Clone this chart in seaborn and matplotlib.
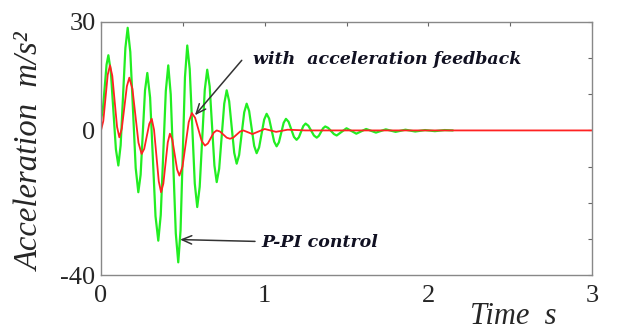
import numpy as np
import pandas as pd
import matplotlib
matplotlib.use('Agg')
import matplotlib.pyplot as plt
import seaborn as sns

sns.set_style('white')
plt.rcParams['font.family'] = ['Liberation Serif', 'DejaVu Serif']

# P-PI control (green) (peaks, troughs and flanks)
green_t = [0.000, 0.011, 0.034, 0.045, 0.060, 0.091, 0.106, 0.120, 0.149, 0.163,
           0.179, 0.212, 0.228, 0.242, 0.269, 0.283, 0.300, 0.333, 0.350, 0.365,
           0.396, 0.411, 0.426, 0.457, 0.472, 0.486, 0.513, 0.527, 0.542, 0.573,
           0.588, 0.603, 0.634, 0.649, 0.664, 0.693, 0.707, 0.722, 0.753, 0.768,
           0.783, 0.814, 0.829, 0.844, 0.875, 0.890, 0.905, 0.936, 0.951, 0.966,
           0.997, 1.012, 1.027, 1.058, 1.073, 1.087, 1.116, 1.130, 1.146, 1.179,
           1.195, 1.209, 1.236, 1.250, 1.267, 1.301, 1.318, 1.331, 1.357, 1.370,
           1.388, 1.423, 1.440, 1.500, 1.560, 1.620, 1.680, 1.740, 1.800, 1.860,
           1.920, 1.980, 2.040, 2.100, 2.150]
green_v = [3.0, 5.6, 18.2, 20.8, 16.3, -5.2, -9.7, -4.1, 22.8, 28.4,
           21.7, -10.4, -17.1, -12.3, 11.1, 15.9, 9.1, -23.7, -30.5, -23.4,
           10.9, 18.0, 10.0, -28.5, -36.5, -27.7, 14.7, 23.5, 17.0, -14.7,
           -21.2, -15.6, 11.2, 16.8, 12.2, -9.7, -14.3, -10.6, 7.4, 11.1,
           8.1, -6.2, -9.2, -6.8, 5.0, 7.4, 5.4, -4.3, -6.3, -4.7,
           3.0, 4.6, 3.3, -3.1, -4.4, -3.3, 2.1, 3.2, 2.4, -1.8,
           -2.6, -1.9, 1.2, 1.9, 1.3, -1.4, -2.0, -1.5, 0.6, 1.1,
           0.7, -1.0, -1.4, 0.6, -0.9, 0.4, -0.6, 0.3, -0.4, 0.2,
           -0.3, 0.1, -0.2, 0.1, 0.0]

# with acceleration feedback (red)
red_t = [0.000, 0.014, 0.041, 0.055, 0.069, 0.098, 0.112, 0.127, 0.158, 0.173,
         0.192, 0.229, 0.248, 0.264, 0.295, 0.310, 0.324, 0.353, 0.367, 0.381,
         0.408, 0.421, 0.436, 0.465, 0.479, 0.498, 0.536, 0.555, 0.575, 0.615,
         0.635, 0.653, 0.689, 0.707, 0.727, 0.768, 0.788, 0.808, 0.850, 0.870,
         0.925, 1.000, 1.070, 1.140, 1.250, 3.000]
red_v = [0.0, 2.6, 15.4, 18.0, 15.1, 1.0, -1.9, 0.5, 12.2, 14.6,
         11.5, -3.4, -6.5, -5.1, 1.8, 3.2, 0.2, -14.1, -17.1, -14.7,
         -3.3, -0.9, -2.6, -10.8, -12.5, -10.0, 2.3, 4.8, 3.5, -2.9,
         -4.2, -3.6, -0.6, 0.0, -0.3, -2.0, -2.3, -2.0, -0.3, 0.0,
         -1.0, 0.4, -0.4, 0.2, 0.0, 0.0]

xticks = [0, 0.5, 1, 1.5, 2, 2.5, 3]
xticklabels = ['0', '', '1', '', '2', '', '3']
yticks = [-40, -30, -20, -10, 0, 10, 20, 30]
yticklabels = ['-40', '', '', '', '0', '', '', '30']

fig = plt.figure(figsize=(6.32, 3.33), dpi=100)
ax = fig.add_axes([101 / 632, 58 / 333, 491 / 632, 253 / 333])

sns.lineplot(x=green_t, y=green_v, ax=ax, color='#22ee22', lw=1.6,
             estimator=None, sort=False)
sns.lineplot(x=red_t, y=red_v, ax=ax, color='#ff2222', lw=1.3,
             estimator=None, sort=False)

ax.set_xlim(0, 3)
ax.set_ylim(-40, 30)
ax.set_xticks(xticks)
ax.set_xticklabels(xticklabels)
ax.set_yticks(yticks)
ax.set_yticklabels(yticklabels)
ax.tick_params(direction='in', top=True, right=True, length=3, width=0.8,
               color='#666666', labelsize=19)
ax.tick_params(axis='x', pad=7)
ax.tick_params(axis='y', pad=4)
for s in ax.spines.values():
    s.set_color('#888888')
    s.set_linewidth(1.0)

# annotations: arrows drawn separately from the labels
arrow = dict(arrowstyle='->,head_length=0.7,head_width=0.3', color='#333333',
             lw=1.1, shrinkA=0, shrinkB=0)
ax.annotate('', xy=(0.574, 4.2), xytext=(0.86, 19.4), arrowprops=arrow)
ax.annotate('', xy=(0.483, -30.2), xytext=(0.941, -30.7), arrowprops=arrow)

ann_font = dict(family='DejaVu Serif', fontsize=12.5, fontweight='bold',
                fontstyle='italic', color='#111122')
ax.text(0.928, 19.6, 'with  acceleration feedback', ha='left', va='center', **ann_font)
ax.text(0.983, -31.0, 'P-PI control', ha='left', va='center', **ann_font)

fig.text(31 / 632, 1 - 152 / 333, 'Acceleration  m/s²', rotation=90,
         ha='center', va='center', fontsize=23.5, fontstyle='italic')
fig.text(513 / 632, 1 - 317 / 333, 'Time  s', ha='center', va='center',
         fontsize=22, fontstyle='italic')

fig.savefig('out.png', dpi=100)
